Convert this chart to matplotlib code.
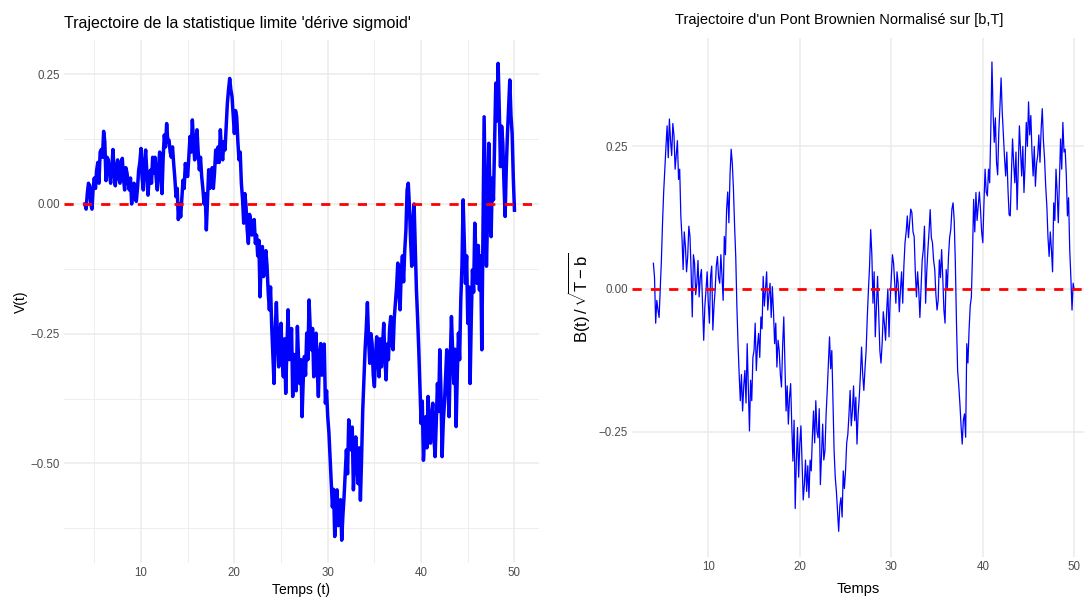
import numpy as np
import matplotlib
matplotlib.use("Agg")
import matplotlib.pyplot as plt

plt.rcParams["font.family"] = ["Liberation Sans", "DejaVu Sans"]
plt.rcParams["mathtext.fontset"] = "custom"
plt.rcParams["mathtext.rm"] = "Liberation Sans"
plt.rcParams["mathtext.it"] = "Liberation Sans:italic"

# limit statistic V(t), sampled every 0.125 from t = 4 to t = 50
v_stat = [
    0.00, -0.01, 0.02, 0.04, 0.035, 0.00, -0.01, 0.03,
    0.05, 0.03, 0.065, 0.08, 0.04, 0.10, 0.105, 0.09,
    0.14, 0.12, 0.045, 0.09, 0.085, 0.06, 0.04, 0.07,
    0.105, 0.06, 0.035, 0.07, 0.085, 0.05, 0.04, 0.08,
    0.088, 0.05, 0.027, 0.07, 0.06, 0.04, 0.027, 0.05,
    0.0, 0.03, 0.04, 0.01, 0.005, 0.03, 0.065, 0.08,
    0.107, 0.05, 0.027, 0.08, 0.104, 0.06, 0.017, 0.05,
    0.065, 0.04, 0.09, 0.06, 0.09, 0.05, 0.027, 0.07,
    0.10, 0.06, 0.02, 0.09, 0.133, 0.11, 0.155, 0.12,
    0.123, 0.10, 0.09, 0.11, 0.078, 0.05, 0.014, 0.03,
    -0.03, 0.00, -0.025, 0.01, 0.046, 0.03, 0.078, 0.06,
    0.053, 0.09, 0.13, 0.10, 0.162, 0.12, 0.085, 0.12,
    0.143, 0.10, 0.066, 0.09, 0.053, 0.03, 0.0, 0.02,
    -0.05, 0.01, 0.066, 0.03, 0.04, 0.07, 0.03, 0.06,
    0.104, 0.08, 0.11, 0.08, 0.143, 0.10, 0.085, 0.12,
    0.104, 0.15, 0.194, 0.22, 0.242, 0.22, 0.207, 0.17,
    0.136, 0.18, 0.168, 0.12, 0.085, 0.10, 0.04, 0.01,
    -0.037, 0.02, -0.005, -0.05, -0.076, -0.02, -0.03, -0.06,
    -0.044, -0.03, -0.076, -0.06, -0.10, -0.07, -0.179, -0.11,
    -0.082, -0.14, -0.127, -0.09, -0.12, -0.17, -0.204, -0.16,
    -0.236, -0.29, -0.346, -0.24, -0.19, -0.26, -0.314, -0.25,
    -0.23, -0.30, -0.333, -0.26, -0.365, -0.28, -0.204, -0.30,
    -0.28, -0.24, -0.371, -0.29, -0.307, -0.36, -0.236, -0.30,
    -0.346, -0.30, -0.41, -0.34, -0.294, -0.33, -0.249, -0.30,
    -0.185, -0.24, -0.281, -0.24, -0.333, -0.26, -0.249, -0.32,
    -0.371, -0.29, -0.269, -0.33, -0.32, -0.27, -0.384, -0.36,
    -0.41, -0.44, -0.487, -0.53, -0.584, -0.55, -0.641, -0.58,
    -0.551, -0.62, -0.603, -0.57, -0.648, -0.60, -0.564, -0.52,
    -0.474, -0.52, -0.416, -0.45, -0.474, -0.43, -0.551, -0.50,
    -0.449, -0.50, -0.539, -0.47, -0.571, -0.49, -0.397, -0.34,
    -0.281, -0.24, -0.19, -0.26, -0.307, -0.25, -0.269, -0.33,
    -0.352, -0.29, -0.256, -0.30, -0.333, -0.26, -0.314, -0.27,
    -0.23, -0.30, -0.339, -0.27, -0.3, -0.24, -0.217, -0.27,
    -0.281, -0.22, -0.19, -0.16, -0.114, -0.17, -0.204, -0.13,
    -0.10, -0.15, -0.089, -0.05, 0.027, 0.04, -0.005, -0.07,
    -0.12, -0.03, 0.0, -0.08, -0.166, -0.22, -0.281, -0.35,
    -0.423, -0.38, -0.494, -0.45, -0.41, -0.47, -0.371, -0.43,
    -0.461, -0.41, -0.384, -0.45, -0.487, -0.42, -0.346, -0.40,
    -0.281, -0.36, -0.487, -0.42, -0.384, -0.33, -0.281, -0.35,
    -0.41, -0.30, -0.217, -0.28, -0.346, -0.28, -0.429, -0.33,
    -0.249, -0.30, -0.185, -0.12, 0.008, -0.07, -0.153, -0.10,
    -0.23, -0.16, -0.346, -0.22, -0.127, -0.17, -0.037, -0.10,
    -0.153, -0.08, -0.166, -0.10, -0.281, -0.05, 0.168, 0.02,
    -0.12, -0.02, 0.117, 0.03, -0.063, 0.05, 0.008, 0.12,
    0.233, 0.16, 0.271, 0.18, 0.072, 0.15, 0.117, 0.04,
    -0.024, 0.07, 0.136, 0.19, 0.239, 0.17, 0.136, 0.05,
    -0.012,
]

# normalised Brownian bridge B(t)/sqrt(T-b), same time grid
bridge = [
    0.045, 0.02, -0.06, -0.02, -0.037, -0.05, -0.002, 0.05,
    0.116, 0.17, 0.21, 0.25, 0.286, 0.23, 0.298, 0.26,
    0.234, 0.29, 0.269, 0.21, 0.234, 0.26, 0.192, 0.21,
    0.128, 0.09, 0.034, 0.10, 0.075, 0.03, 0.057, 0.11,
    0.092, 0.03, -0.049, 0.06, 0.045, -0.01, 0.01, 0.05,
    -0.014, 0.02, 0.034, -0.03, -0.09, -0.03, -0.002, 0.03,
    -0.025, -0.06, 0.022, 0.04, -0.072, -0.03, -0.002, 0.04,
    0.057, 0.02, 0.01, 0.06, 0.022, -0.02, 0.092, 0.06,
    0.139, 0.17, 0.116, 0.20, 0.245, 0.22, 0.175, 0.11,
    0.057, -0.03, -0.096, -0.15, -0.196, -0.15, -0.214, -0.17,
    -0.143, -0.20, -0.096, -0.17, -0.249, -0.16, -0.196, -0.12,
    -0.108, -0.06, -0.143, -0.10, -0.078, -0.12, -0.049, -0.07,
    0.022, -0.03, -0.002, 0.03, -0.037, -0.01, 0.01, -0.05,
    0.004, -0.04, -0.096, -0.06, -0.137, -0.09, -0.108, -0.15,
    -0.172, -0.10, -0.049, -0.13, -0.214, -0.17, -0.237, -0.19,
    -0.166, -0.24, -0.302, -0.23, -0.385, -0.30, -0.243, -0.33,
    -0.272, -0.24, -0.308, -0.37, -0.343, -0.30, -0.355, -0.31,
    -0.366, -0.30, -0.319, -0.26, -0.214, -0.27, -0.196, -0.25,
    -0.261, -0.21, -0.343, -0.29, -0.237, -0.30, -0.284, -0.22,
    -0.178, -0.13, -0.084, -0.14, -0.108, -0.20, -0.284, -0.33,
    -0.355, -0.39, -0.425, -0.38, -0.366, -0.40, -0.319, -0.35,
    -0.319, -0.27, -0.255, -0.22, -0.178, -0.24, -0.214, -0.17,
    -0.231, -0.19, -0.272, -0.22, -0.19, -0.15, -0.102, -0.15,
    -0.178, -0.14, -0.108, -0.05, -0.002, 0.04, 0.104, 0.06,
    -0.025, 0.03, -0.084, -0.03, 0.022, -0.04, -0.108, -0.13,
    -0.096, -0.04, -0.061, -0.09, -0.037, 0.00, -0.084, -0.02,
    0.022, 0.06, 0.045, 0.01, -0.025, 0.03, 0.01, -0.04,
    -0.002, 0.03, -0.025, 0.04, 0.081, 0.10, 0.128, 0.09,
    0.116, 0.14, 0.134, 0.10, 0.092, 0.03, -0.014, 0.03,
    -0.002, -0.05, -0.002, 0.05, 0.069, 0.11, -0.025, 0.03,
    0.069, 0.10, 0.139, 0.09, 0.081, 0.05, 0.034, -0.01,
    -0.037, -0.02, 0.051, 0.02, 0.069, 0.02, -0.037, -0.06,
    0.034, 0.00, 0.057, 0.09, 0.104, 0.14, 0.151, 0.12,
    0.045, -0.06, -0.143, -0.17, -0.202, -0.24, -0.272, -0.23,
    -0.219, -0.26, -0.096, -0.13, -0.072, -0.03, -0.014, 0.06,
    0.157, 0.10, 0.169, 0.12, 0.145, 0.17, 0.139, 0.10,
    0.081, 0.15, 0.21, 0.17, 0.163, 0.21, 0.186, 0.28,
    0.398, 0.31, 0.257, 0.30, 0.222, 0.20, 0.275, 0.32,
    0.37, 0.31, 0.269, 0.23, 0.198, 0.24, 0.175, 0.13,
    0.128, 0.20, 0.263, 0.22, 0.186, 0.24, 0.139, 0.21,
    0.286, 0.24, 0.198, 0.25, 0.169, 0.22, 0.292, 0.25,
    0.328, 0.27, 0.304, 0.24, 0.198, 0.25, 0.18, 0.22,
    0.234, 0.27, 0.222, 0.28, 0.316, 0.26, 0.228, 0.18,
    0.145, 0.09, 0.057, 0.10, 0.069, 0.03, 0.151, 0.12,
    0.21, 0.17, 0.116, 0.19, 0.263, 0.21, 0.292, 0.24,
    0.245, 0.20, 0.128, 0.16, 0.069, 0.02, -0.037, 0.01,
    -0.002,
]

t_start, t_end, dt = 4.0, 50.0, 0.125
t = np.arange(t_start, t_end + dt / 2, dt)
assert len(t) == len(v_stat) == len(bridge)

x_ticks = [10, 20, 30, 40, 50]
grid_col = "#ebebeb"
tick_col = "#4d4d4d"


def minimal_axes(ax, minor=True):
    for s in ax.spines.values():
        s.set_visible(False)
    ax.set_facecolor("white")
    ax.tick_params(which="both", length=0, labelsize=8.3, colors=tick_col, pad=3)
    ax.grid(True, which="major", color=grid_col, lw=1.1)
    if minor:
        ax.grid(True, which="minor", color=grid_col, lw=0.6)
    ax.set_axisbelow(True)


fig = plt.figure(figsize=(10.84, 6.01), dpi=100)

# left: limit statistic
ax1 = fig.add_axes([0.059, 0.0632, 0.438, 0.8702])
ax1.plot(t, v_stat, color="blue", lw=2.5, solid_joinstyle="round", zorder=2)
ax1.axhline(0, color="red", lw=2.0, ls=(0, (3.3, 3.3)), zorder=3)
ax1.set_xlim(1.75, 52.6)
ax1.set_ylim(-0.692, 0.316)
ax1.set_xticks(x_ticks)
ax1.set_xticks([5, 15, 25, 35, 45], minor=True)
ax1.set_yticks([0.25, 0.0, -0.25, -0.5])
ax1.set_yticklabels(["0.25", "0.00", "\u22120.25", "\u22120.50"])
ax1.set_yticks([0.125, -0.125, -0.375, -0.625], minor=True)
minimal_axes(ax1)
ax1.tick_params(which="minor", labelleft=False, labelbottom=False)
ax1.set_xlabel("Temps (t)", fontsize=10, labelpad=3)
ax1.set_ylabel("V(t)", fontsize=10, labelpad=2)
ax1.set_title("Trajectoire de la statistique limite 'dérive sigmoid'",
              loc="left", fontsize=11.5, pad=9)

# right: normalised Brownian bridge
ax2 = fig.add_axes([0.583, 0.0732, 0.417, 0.8636])
ax2.plot(t, bridge, color="blue", lw=0.9, zorder=2)
ax2.axhline(0, color="red", lw=2.0, ls=(0, (3.3, 3.3)), zorder=3)
ax2.set_xlim(1.66, 51.06)
ax2.set_ylim(-0.47, 0.44)
ax2.set_xticks(x_ticks)
ax2.set_yticks([0.25, 0.0, -0.25])
ax2.set_yticklabels(["0.25", "0.00", "\u22120.25"])
minimal_axes(ax2, minor=False)
ax2.set_xlabel("Temps", fontsize=10.5, labelpad=6)
ax2.set_ylabel(r"$\mathrm{B(t)\,/\,\sqrt{T-b}}$", fontsize=12, labelpad=5)
fig.text(839 / 1084, 1 - 20 / 601, "Trajectoire d'un Pont Brownien Normalisé sur [b,T]",
         ha="center", va="center", fontsize=10.5)

fig.savefig("out.png", dpi=100)
